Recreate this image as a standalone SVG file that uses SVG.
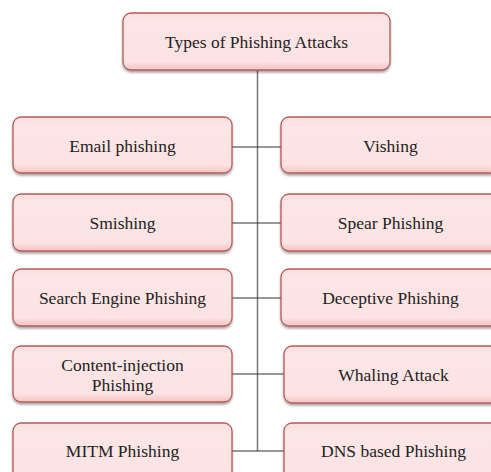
<svg xmlns="http://www.w3.org/2000/svg" width="491" height="472" viewBox="0 0 491 472">
<defs>
<linearGradient id="g" x1="0" y1="0" x2="0" y2="1">
<stop offset="0" stop-color="#fbdede"/>
<stop offset="0.15" stop-color="#fde6e6"/>
<stop offset="0.85" stop-color="#fde3e3"/>
<stop offset="1" stop-color="#f6c4c4"/>
</linearGradient>
<filter id="sh" x="-10%" y="-10%" width="120%" height="130%">
<feGaussianBlur in="SourceAlpha" stdDeviation="1.2"/>
<feOffset dx="0" dy="1.5"/>
<feComponentTransfer><feFuncA type="linear" slope="0.35"/></feComponentTransfer>
<feMerge><feMergeNode/><feMergeNode in="SourceGraphic"/></feMerge>
</filter>
</defs>
<style>
.box{fill:url(#g);stroke:#b85a5a;stroke-width:1.3;filter:url(#sh)}
.t{font-family:"Liberation Serif","Times New Roman",serif;font-size:17.5px;fill:#222;text-anchor:middle;dominant-baseline:central}
.vl{stroke:#777;stroke-width:1.5;fill:none}
.hl{stroke:#333;stroke-width:1.2;fill:none}
</style>
<rect width="491" height="472" fill="#fff"/>
<g id="connectors">
<line class="vl" x1="257.5" y1="70" x2="257.5" y2="451"/>
<line class="hl" x1="232" y1="147" x2="281" y2="147"/>
<line class="hl" x1="232" y1="223" x2="281" y2="223"/>
<line class="hl" x1="232" y1="298" x2="281" y2="298"/>
<line class="hl" x1="232" y1="374" x2="284" y2="374"/>
<line class="hl" x1="232" y1="451" x2="284" y2="451"/>
</g>
<g id="root"><rect class="box" x="123" y="13" width="267" height="57" rx="8"/><text class="t" x="256.5" y="42">Types of Phishing Attacks</text></g>
<g id="email"><rect class="box" x="13" y="117" width="219" height="56" rx="8"/><text class="t" x="122.5" y="146">Email phishing</text></g>
<g id="vishing"><rect class="box" x="281" y="117" width="219" height="56" rx="8"/><text class="t" x="390.5" y="146">Vishing</text></g>
<g id="smishing"><rect class="box" x="13" y="194" width="219" height="57" rx="8"/><text class="t" x="122.5" y="223">Smishing</text></g>
<g id="spear"><rect class="box" x="281" y="194" width="219" height="57" rx="8"/><text class="t" x="390.5" y="223">Spear Phishing</text></g>
<g id="search"><rect class="box" x="13" y="269" width="219" height="57" rx="8"/><text class="t" x="122.5" y="298">Search Engine Phishing</text></g>
<g id="deceptive"><rect class="box" x="281" y="269" width="219" height="57" rx="8"/><text class="t" x="390.5" y="298">Deceptive Phishing</text></g>
<g id="content"><rect class="box" x="13" y="346" width="219" height="56" rx="8"/><text class="t" x="122.5" y="365">Content-injection</text><text class="t" x="122.5" y="385">Phishing</text></g>
<g id="whaling"><rect class="box" x="284" y="346" width="219" height="57" rx="8"/><text class="t" x="393.5" y="375">Whaling Attack</text></g>
<g id="mitm"><rect class="box" x="13" y="423" width="219" height="60" rx="8"/><text class="t" x="122.5" y="451">MITM Phishing</text></g>
<g id="dns"><rect class="box" x="284" y="423" width="219" height="60" rx="8"/><text class="t" x="393.5" y="451">DNS based Phishing</text></g>
</svg>
